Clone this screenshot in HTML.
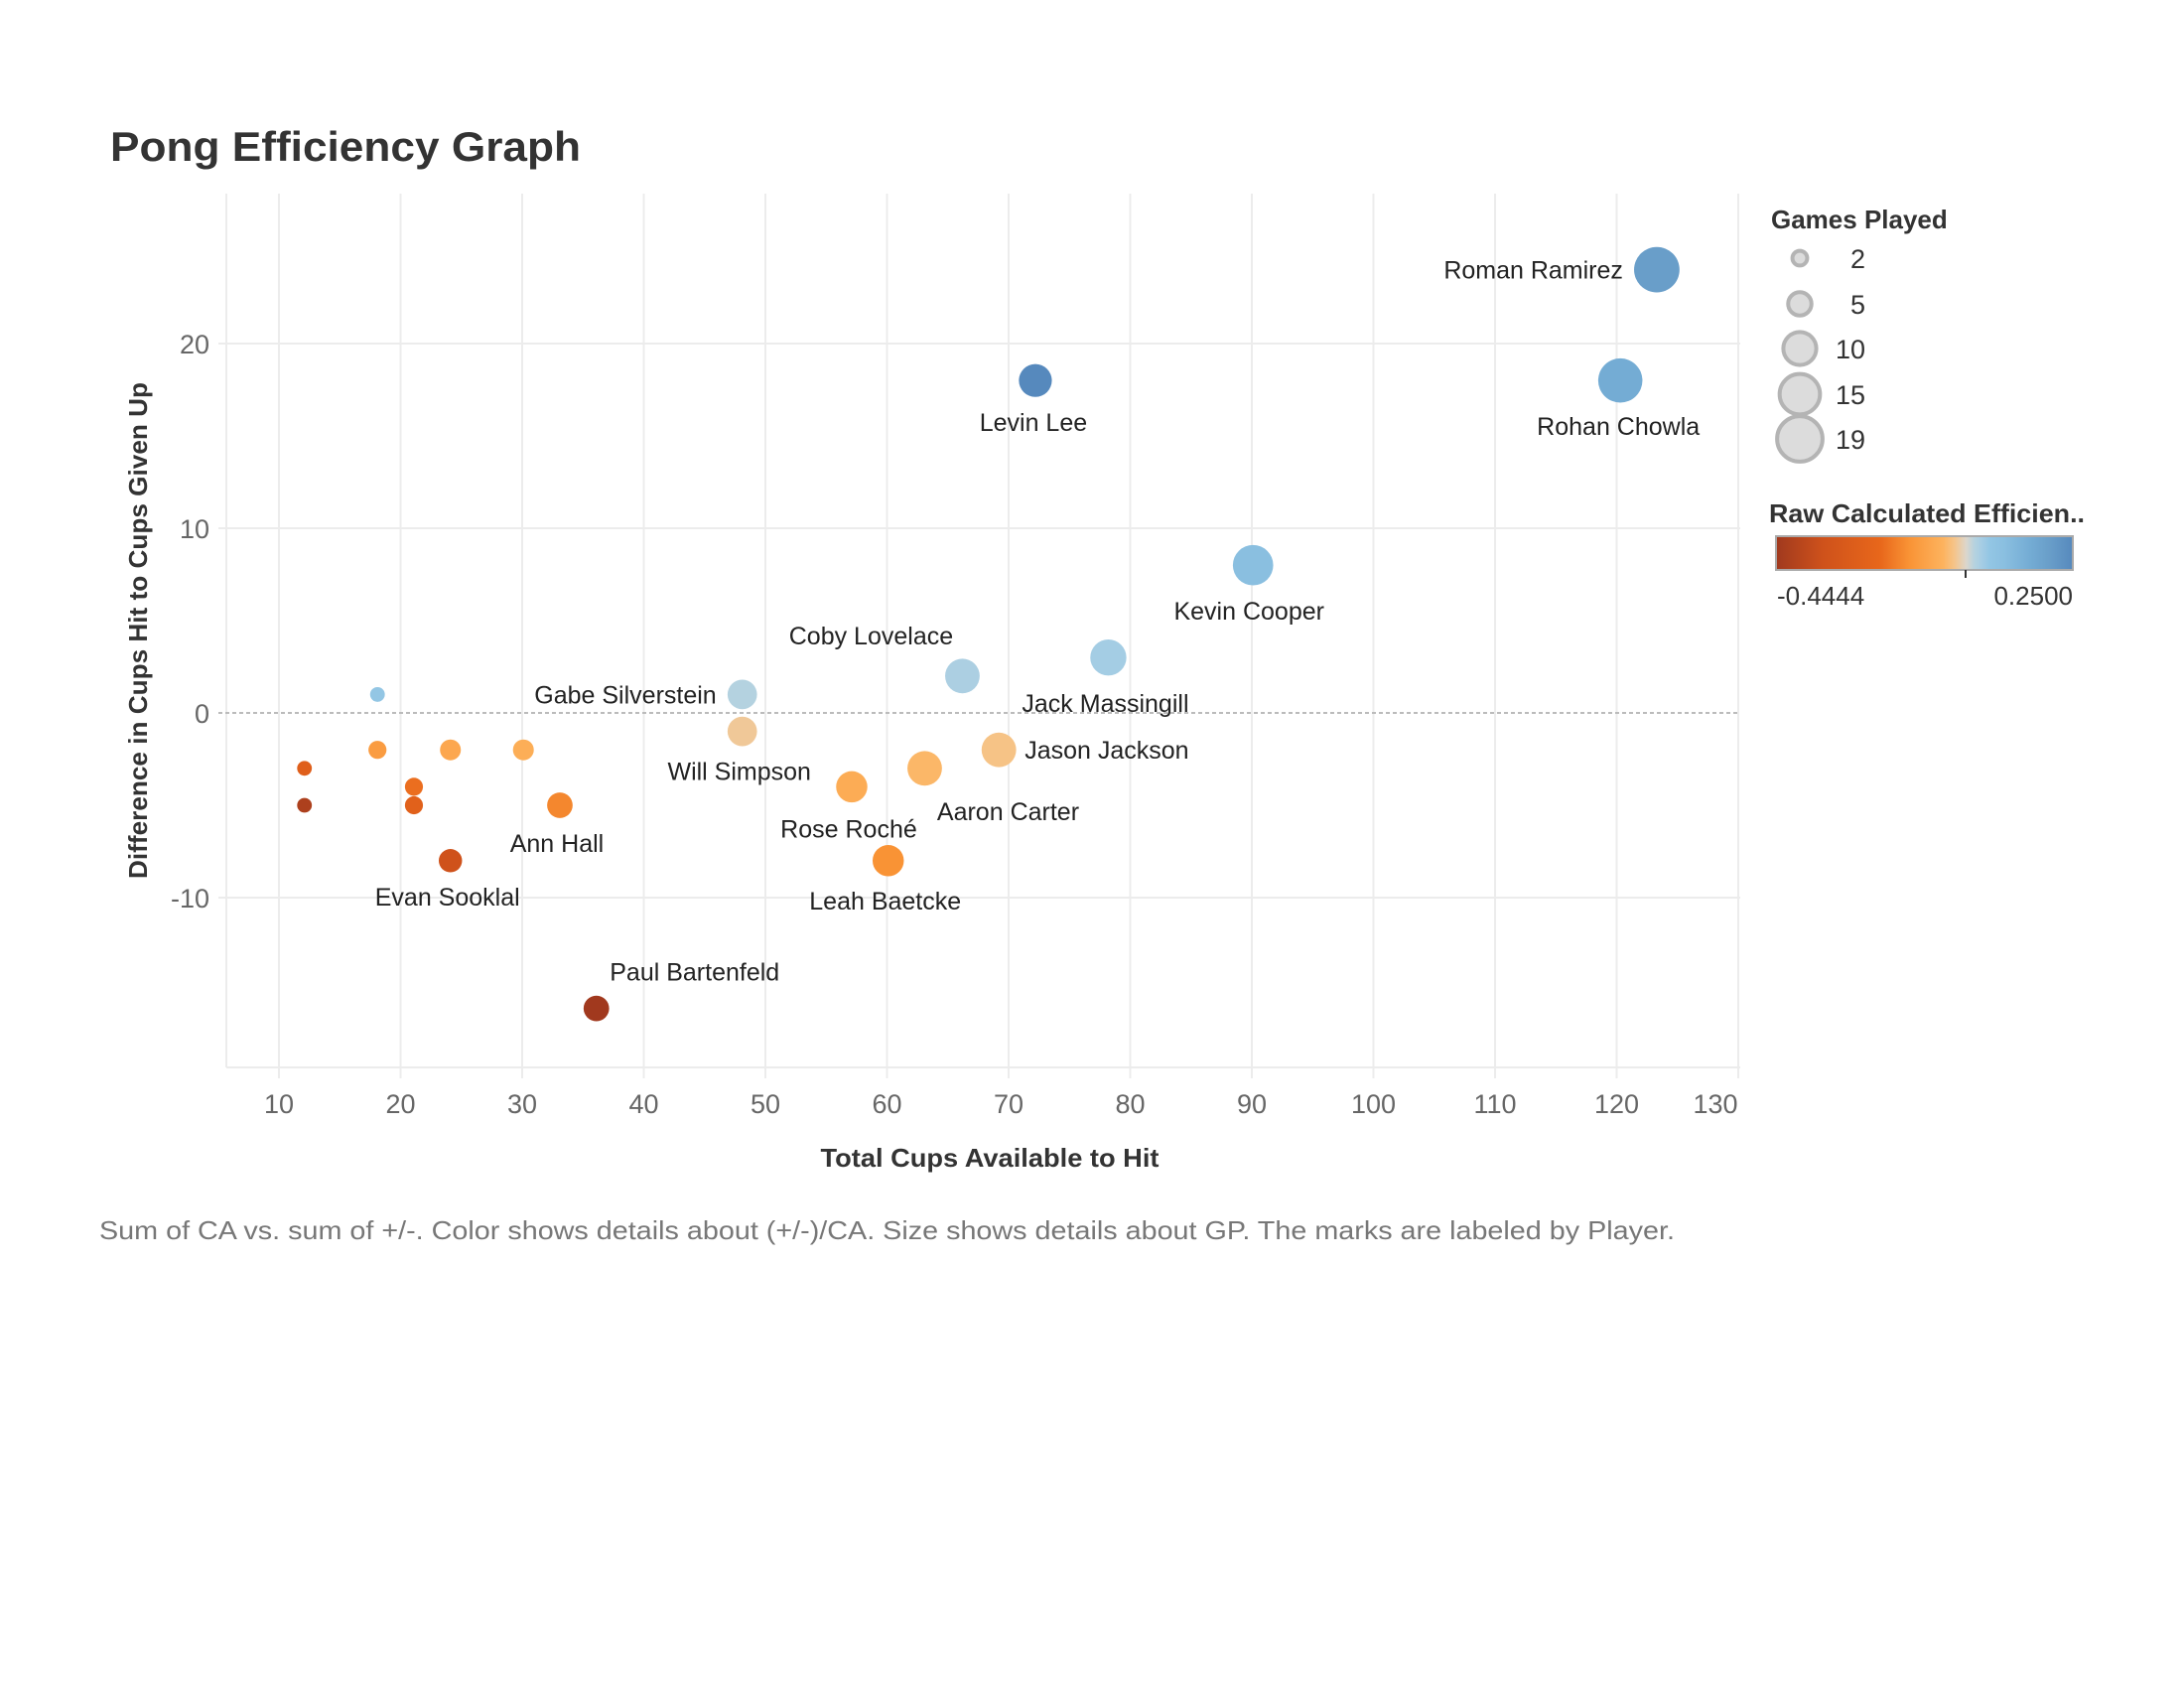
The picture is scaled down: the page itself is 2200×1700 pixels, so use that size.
<!DOCTYPE html>
<html><head><meta charset="utf-8"><style>
html,body{margin:0;padding:0;background:#fff;}
svg{display:block;font-family:"Liberation Sans",sans-serif;}
</style></head><body>
<svg id="chart" width="2200" height="1700" viewBox="0 0 2200 1700">
<text x="111" y="162" font-size="42" font-weight="bold" fill="#333" textLength="474" lengthAdjust="spacingAndGlyphs">Pong Efficiency Graph</text>
<g id="grid"></g>
<g id="axes"></g>
<g id="marks"></g>
<g id="labels"></g>
<text x="997" y="1175" font-size="26" font-weight="bold" fill="#333" text-anchor="middle" textLength="341" lengthAdjust="spacingAndGlyphs">Total Cups Available to Hit</text>
<text transform="translate(148,635) rotate(-90)" font-size="26" font-weight="bold" fill="#333" text-anchor="middle" textLength="500" lengthAdjust="spacingAndGlyphs">Difference in Cups Hit to Cups Given Up</text>
<text x="100" y="1248" font-size="26" fill="#777" textLength="1587" lengthAdjust="spacingAndGlyphs">Sum of CA vs. sum of +/-.  Color shows details about (+/-)/CA.  Size shows details about GP.  The marks are labeled by Player.</text>
<g>
<text x="1784" y="230" font-size="26" font-weight="bold" fill="#333">Games Played</text>
<g id="sizeLegend"></g>
</g>
<g>
<text x="1782" y="526" font-size="26" font-weight="bold" fill="#333" textLength="318" lengthAdjust="spacingAndGlyphs">Raw Calculated Efficien..</text>
<defs><linearGradient id="cg" x1="0" x2="1" y1="0" y2="0"></linearGradient></defs>
<rect x="1789" y="540" width="299" height="34" fill="url(#cg)" stroke="#aaa" stroke-width="2"/>
<line x1="1980" x2="1980" y1="574" y2="582" stroke="#333" stroke-width="2"/>
<text x="1790" y="609" font-size="26" fill="#333">-0.4444</text>
<text x="2088" y="609" font-size="26" fill="#333" text-anchor="end">0.2500</text>
</g>
</svg>
<script>
const players = ["Roman Ramirez","Rohan Chowla","Levin Lee","Kevin Cooper","Jack Massingill","Coby Lovelace","Gabe Silverstein","Will Simpson","Jason Jackson","Aaron Carter","Rose Roché","Leah Baetcke","Ann Hall","Evan Sooklal","Paul Bartenfeld","","","","","","","",""];
const cupsAvailable = [123.3,120.3,72.2,90.1,78.2,66.2,48.1,48.1,69.2,63.1,57.1,60.1,33.1,24.1,36.1,18.1,18.1,24.1,30.1,12.1,12.1,21.1,21.1];
const cupDiff = [24,18,18,8,3,2,1,-1,-2,-3,-4,-8,-5,-8,-16,1,-2,-2,-2,-3,-5,-4,-5];
const gamesPlayed = [19,18,10,15,12,11,8,8,11,11,9,9,6,5,6,2,3,4,4,2,2,3,3];
const xTicks = [10,20,30,40,50,60,70,80,90,100,110,120,130];
const yTicks = [-10,0,10,20];
const sizeLegendValues = [2,5,10,15,19];
// label layout offsets (dx, dy, anchor) — presentation only
const labelLayout = [[-34,0,"end"],[-2,46,"middle"],[-2,42,"middle"],[-4,46,"middle"],[-3,46,"middle"],[-92,-41,"middle"],[-26,0,"end"],[-3,40,"middle"],[26,0,"start"],[84,43,"middle"],[-3,42,"middle"],[-3,40,"middle"],[-3,38,"middle"],[-3,36,"middle"],[99,-37,"middle"]];

const NS="http://www.w3.org/2000/svg";
const X0=281, XU=12.25, Y0=718, YU=18.6;
const PL=228, PR=1753, PT=195, PB=1075;
const xs=v=>X0+(v-10)*XU, ys=v=>Y0-v*YU;
const rs=g=>5.25*Math.sqrt(g);
function mk(tag,attrs,parent){const e=document.createElementNS(NS,tag);for(const k in attrs)e.setAttribute(k,attrs[k]);parent.appendChild(e);return e;}
const negStops=[[0,"#ddd6cb"],[0.06,"#f5c48a"],[0.12,"#fdb35e"],[0.3,"#f99335"],[0.45,"#e8671b"],[0.75,"#cf521b"],[1,"#a0391e"]];
const posStops=[[0,"#ddd6cb"],[0.08,"#b5d2e0"],[0.15,"#a5cde4"],[0.22,"#93c6e4"],[0.36,"#8abfe0"],[0.6,"#74acd4"],[0.78,"#699ec9"],[1,"#5689bd"]];
function hx(h){return [1,3,5].map(i=>parseInt(h.substr(i,2),16));}
function interp(stops,t){t=Math.max(0,Math.min(1,t));for(let i=1;i<stops.length;i++){if(t<=stops[i][0]){const a=stops[i-1],b=stops[i];const f=(t-a[0])/(b[0]-a[0]);const A=hx(a[1]),B=hx(b[1]);return "rgb("+A.map((v,j)=>Math.round(v+(B[j]-v)*f)).join(",")+")";}}return stops[stops.length-1][1];}
function color(e){return e<0?interp(negStops,-e/0.4444):interp(posStops,e/0.25);}

const grid=document.getElementById('grid');
xTicks.forEach(t=>{const l=mk('line',{x1:xs(t),x2:xs(t),y1:PT,y2:PB+11,stroke:'#ececec','stroke-width':2},grid);

});
yTicks.forEach(t=>{if(t===0)return;const l=mk('line',{x1:PL-8,x2:PR,y1:ys(t),y2:ys(t),stroke:'#ececec','stroke-width':2},grid);

});
const b1=mk('line',{x1:PL,x2:PL,y1:PT,y2:PB,stroke:'#ececec','stroke-width':2},grid);


const b2=mk('line',{x1:PL,x2:PR,y1:PB,y2:PB,stroke:'#ececec','stroke-width':2},grid);


const zl=mk('line',{x1:PL-8,x2:PR,y1:ys(0),y2:ys(0),stroke:'#bbb','stroke-width':2,'stroke-dasharray':'4,3'},grid);



const axes=document.getElementById('axes');
xTicks.forEach(t=>{const x=t===130?PR-25:xs(t);const tx=mk('text',{x:x,y:1121,'font-size':27,fill:'#666','text-anchor':'middle'},axes);tx.textContent=t;

});
yTicks.forEach(t=>{const tx=mk('text',{x:211,y:ys(t)+10,'font-size':27,fill:'#666','text-anchor':'end'},axes);tx.textContent=t;

});

const marks=document.getElementById('marks'), labels=document.getElementById('labels');
cupsAvailable.forEach((cx,i)=>{const cy=cupDiff[i];const c=mk('circle',{cx:xs(cx),cy:ys(cy),r:rs(gamesPlayed[i]),fill:color(cy/cx)},marks);


if(players[i]&&labelLayout[i]){const L=labelLayout[i];const t=mk('text',{x:xs(cx)+L[0],y:ys(cy)+L[1]+9,'font-size':25,fill:'#222','text-anchor':L[2]},labels);t.textContent=players[i];

}});

const sl=document.getElementById('sizeLegend');const sy=[260,306,351,397,442];
sizeLegendValues.forEach((g,i)=>{const c=mk('circle',{cx:1813,cy:sy[i],r:rs(g),fill:'#dcdcdc',stroke:'#b4b4b4','stroke-width':4},sl);


const t=mk('text',{x:1879,y:sy[i]+10,'font-size':27,fill:'#333','text-anchor':'end'},sl);t.textContent=g;

});

const cg=document.getElementById('cg');const mid=0.4444/0.6944;
negStops.slice().reverse().forEach(s=>mk('stop',{offset:(mid*(1-s[0])).toFixed(4),'stop-color':s[1]},cg));
posStops.forEach(s=>mk('stop',{offset:(mid+(1-mid)*s[0]).toFixed(4),'stop-color':s[1]},cg));
</script>
</body></html>
